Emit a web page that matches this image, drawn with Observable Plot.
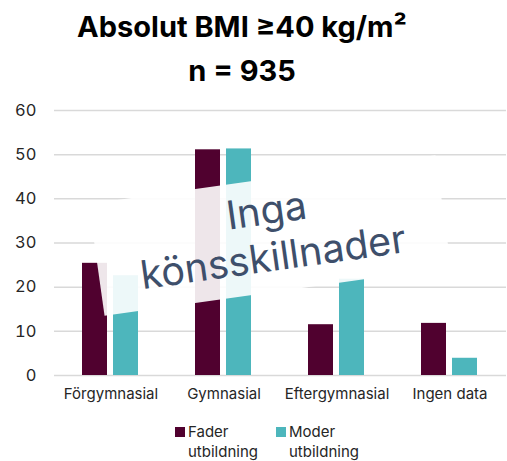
<!DOCTYPE html>
<html>
<head>
<meta charset="utf-8">
<script src="https://cdn.jsdelivr.net/npm/d3@7"></script>
<script src="https://cdn.jsdelivr.net/npm/@observablehq/plot@0.6"></script>
<style>
  body { margin: 0; background: #fff; }
  #wrap { position: relative; width: 507px; height: 461px; font-family: Inter, "Open Sans", sans-serif; overflow: hidden; }
  #title { position: absolute; top: 5px; left: 0; width: 484px; text-align: center; font-weight: 700; font-size: 29px; line-height: 44px; color: #000; }
  #chart { position: absolute; top: 95px; left: 0; }
  #note { position: absolute; left: 95px; top: 178.5px; width: 350px; height: 113px; transform: rotate(-8deg);
          background: rgba(255,255,255,0.9); color: #3e4f6b; font-size: 39.5px; line-height: 47px; text-align: center;
          display: flex; flex-direction: column; justify-content: center; align-items: center; padding-bottom: 4px; box-sizing: border-box; }
  #legend { position: absolute; left: 175px; top: 422px; display: flex; gap: 18px; font-size: 15px; line-height: 20px; color: #262626; }
  .item { display: flex; align-items: flex-start; }
  .sw { width: 10px; height: 10px; margin-top: 5px; margin-right: 3px; }
</style>
</head>
<body>
<div id="wrap">
  <div id="title">Absolut BMI ≥40 kg/m²<br>n = 935</div>
  <div id="chart"></div>
  <div id="note"><div>Inga</div><div>könsskillnader</div></div>
  <div id="legend"></div>
</div>
<script>
const categories = ["Förgymnasial", "Gymnasial", "Eftergymnasial", "Ingen data"];
const series = ["Fader utbildning", "Moder utbildning"];
const fader = [25.4, 51.1, 11.5, 11.8];
const moder = [22.6, 51.3, 21.8, 3.9];
const yTicks = [0, 10, 20, 30, 40, 50, 60];
const colors = ["#50012f", "#4db6bc"];

const data = [];
categories.forEach((c, i) => {
  data.push({cat: c, series: series[0], value: fader[i]});
  data.push({cat: c, series: series[1], value: moder[i]});
});

const chart = Plot.plot({
  width: 507,
  height: 320,
  marginTop: 15,
  marginBottom: 40,
  marginLeft: 52,
  marginRight: 0,
  style: {fontFamily: "Inter, 'Open Sans', sans-serif", fontSize: "14px", color: "#262626", background: "transparent"},
  fx: {domain: categories, padding: 0, label: null},
  x: {domain: series, axis: null, paddingInner: 0.1875, paddingOuter: 0.875},
  y: {domain: [0, 60], label: null},
  color: {domain: series, range: colors},
  marks: [
    Plot.ruleY(yTicks, {stroke: "#d9d9d9", strokeWidth: 1.5}),
    Plot.barY(data, {fx: "cat", x: "series", y: "value", fill: "series"}),
    Plot.axisY({ticks: yTicks, tickSize: 0, tickPadding: 18, fontSize: 16.5, label: null}),
    Plot.axisFx({anchor: "bottom", tickSize: 0, tickPadding: 13, fontSize: 15, label: null})
  ]
});
document.getElementById("chart").appendChild(chart);

const legend = document.getElementById("legend");
series.forEach((s, i) => {
  const item = document.createElement("div");
  item.className = "item";
  const sw = document.createElement("div");
  sw.className = "sw";
  sw.style.background = colors[i];
  const label = document.createElement("div");
  const parts = s.split(" ");
  label.innerHTML = parts[0] + "<br>" + parts.slice(1).join(" ");
  item.appendChild(sw);
  item.appendChild(label);
  legend.appendChild(item);
});
</script>
</body>
</html>
